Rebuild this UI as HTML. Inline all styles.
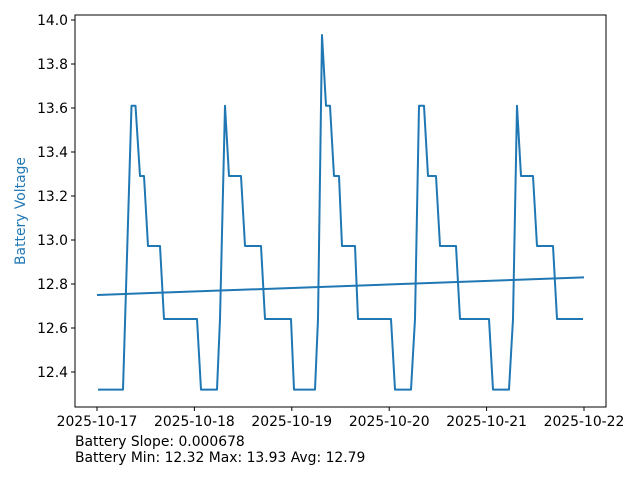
<!DOCTYPE html>
<html><head><meta charset="utf-8"><style>
body{margin:0;background:#fff;}
svg{display:block;font-family:"DejaVu Sans","Liberation Sans",sans-serif;}
</style></head><body>
<svg width="640" height="480" viewBox="0 0 640 480">
<rect x="75" y="15" width="531" height="392" fill="none" stroke="#000" stroke-width="1"/>
<g stroke="#000" stroke-width="1">
<line x1="75" y1="20" x2="71" y2="20"/><line x1="75" y1="64" x2="71" y2="64"/><line x1="75" y1="108" x2="71" y2="108"/><line x1="75" y1="152" x2="71" y2="152"/><line x1="75" y1="196" x2="71" y2="196"/><line x1="75" y1="240" x2="71" y2="240"/><line x1="75" y1="284" x2="71" y2="284"/><line x1="75" y1="328" x2="71" y2="328"/><line x1="75" y1="372" x2="71" y2="372"/>
<line x1="97" y1="407" x2="97" y2="411"/><line x1="194.4" y1="407" x2="194.4" y2="411"/><line x1="291.8" y1="407" x2="291.8" y2="411"/><line x1="389.2" y1="407" x2="389.2" y2="411"/><line x1="486.6" y1="407" x2="486.6" y2="411"/><line x1="584" y1="407" x2="584" y2="411"/>
</g>
<g font-size="13.9" fill="#000" text-anchor="end">
<text x="68" y="25">14.0</text><text x="68" y="69">13.8</text><text x="68" y="113">13.6</text><text x="68" y="157">13.4</text><text x="68" y="201">13.2</text><text x="68" y="245">13.0</text><text x="68" y="289">12.8</text><text x="68" y="333">12.6</text><text x="68" y="377">12.4</text>
</g>
<g font-size="13.9" fill="#000" text-anchor="middle">
<text x="97" y="426">2025-10-17</text><text x="194.4" y="426">2025-10-18</text><text x="291.8" y="426">2025-10-19</text><text x="389.2" y="426">2025-10-20</text><text x="486.6" y="426">2025-10-21</text><text x="584" y="426">2025-10-22</text>
</g>
<text transform="translate(25,211) rotate(-90)" font-size="13.9" fill="#1f77b4" text-anchor="middle">Battery Voltage</text>
<text x="75" y="446" font-size="13.9" fill="#000">Battery Slope: 0.000678</text>
<text x="75" y="462" font-size="13.9" fill="#000">Battery Min: 12.32 Max: 13.93 Avg: 12.79</text>
<polyline fill="none" stroke="#1f77b4" stroke-width="2" stroke-linejoin="round" points="
98,389.6 123,389.6 131.5,105.8 135.5,105.8 140,176 144,176 148,246 160,246 164,319 197,319 201,389.6 217,389.6 220,319 225,105.8 229,176 241,176 245,246 261,246 265,319 291,319 294,389.6 315,389.6 318,319 322,35 326,105.8 330,105.8 334,176 339,176 342,246 355,246 358,319 391,319 395,389.6 411,389.6 415,319 419,105.8 424,105.8 428,176 436,176 440,246 456,246 460,319 489,319 493,389.6 509,389.6 513,319 517,105.8 521,176 533,176 537,246 553,246 557,319 583,319"/>
<line x1="97" y1="295" x2="584" y2="277.4" stroke="#1f77b4" stroke-width="2"/>
</svg>
</body></html>
